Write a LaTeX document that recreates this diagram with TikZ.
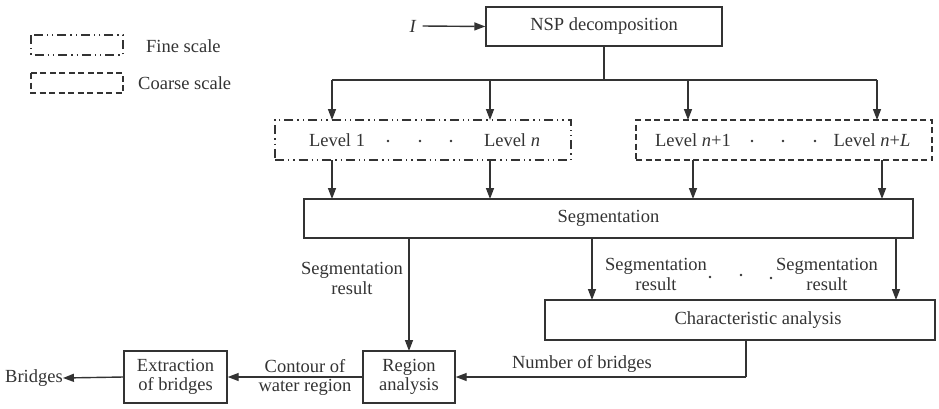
\documentclass[tikz,border=0pt]{standalone}
\usepackage{fontspec}
\setmainfont{Liberation Serif}
\usetikzlibrary{arrows.meta}
\definecolor{ink}{HTML}{333333}
\tikzset{
  every node/.style={font=\fontsize{18.5}{21}\selectfont, text=ink},
  box/.style={draw=ink, line width=1.4pt, inner sep=0pt, align=center},
  fine/.style={draw=ink, line width=1.4pt, dash pattern=on 9pt off 4pt on 1.3pt off 4pt on 1.3pt off 4pt},
  coarse/.style={draw=ink, line width=1.4pt, dash pattern=on 6pt off 3.5pt},
  link/.style={draw=ink, line width=1.4pt},
  arr/.style={link, -{Triangle[length=11pt,width=8pt]}},
  lbl/.style={align=center, inner sep=0pt},
}
\begin{document}
\begin{tikzpicture}[x=1pt, y=-1pt]
\useasboundingbox (0,0) rectangle (939,408);

% legend
\draw[fine] (31,35) rectangle (123,55);
\node[anchor=west, inner sep=0pt] (lgfine) at (146,46) {Fine scale};
\draw[coarse] (31,73) rectangle (123,93);
\node[anchor=west, inner sep=0pt] (lgcoarse) at (138,83) {Coarse scale};

% main boxes
\node[box, minimum width=236pt, minimum height=39pt] (nsp) at (604,26.5) {NSP decomposition};
\node[fine, inner sep=0pt, minimum width=296pt, minimum height=40pt] (finebox) at (423,140) {};
\node[coarse, inner sep=0pt, minimum width=296pt, minimum height=40pt] (coarsebox) at (784,140) {};
\node[box, minimum width=609pt, minimum height=39pt] (seg) at (608.5,218.5) {Segmentation};
\node[box, minimum width=390pt, minimum height=40pt] (char) at (740,320) {\hspace*{36pt}Characteristic analysis};
\node[box, minimum width=92pt, minimum height=52pt] (region) at (409,377) {Region\\[-2pt]analysis};
\node[box, minimum width=103pt, minimum height=52pt] (extract) at (175.5,377) {Extraction\\[-2pt]of bridges};

% level labels
\node[lbl] (l1) at (337,140) {Level 1};
\node[lbl] (ln) at (512,140) {Level \textit{n}};
\node[lbl] (ln1) at (693,140) {Level \textit{n}+1};
\node[lbl] (lnl) at (872,140) {Level \textit{n}+\textit{L}};
\foreach \x in {388,420,451} \fill[ink] (\x,141) circle (1.3pt);
\foreach \x in {752,783,815} \fill[ink] (\x,141) circle (1.3pt);

% input
\node[lbl] (inp) at (413,26) {\textit{I}};
\draw[arr] (inp.east) ++(6pt,0) -- (nsp.west);

% distribution bus
\coordinate (bus) at (604,80);
\draw[link] (nsp.south) -- (bus);
\draw[link] (332,80) -- (877,80);
\draw[arr] (332,80) -- (332,120);
\draw[arr] (490,80) -- (490,120);
\draw[arr] (688,80) -- (688,120);
\draw[arr] (877,80) -- (877,120);

% into segmentation
\draw[arr] (332,160) -- (332,199);
\draw[arr] (490,160) -- (490,199);
\draw[arr] (693,160) -- (693,199);
\draw[arr] (882,160) -- (882,199);

% segmentation results
\draw[arr] (409,238) -- (409,351);
\node[lbl] (sr0) at (352,278) {Segmentation\\[-1pt]result};
\draw[arr] (592,238) -- (592,300);
\draw[arr] (896,238) -- (896,300);
\node[lbl] (sr1) at (656,274) {Segmentation\\[-1pt]result};
\node[lbl] (sr2) at (827,274) {Segmentation\\[-1pt]result};
\foreach \x/\y in {710/277,741/275,771/278} \fill[ink] (\x,\y) circle (1.3pt);

% number of bridges
\coordinate (nb) at (746,377);
\draw[link] (746,340) -- (nb);
\draw[arr] (nb) -- (region.east |- nb);
\node[lbl] (nbl) at (582,364) {Number of bridges};

% contour and output
\draw[arr] (region.west) -- (extract.east);
\node[lbl] (cw) at (305,377) {Contour of\\[-2pt]water region};
\node[lbl, anchor=west] (br) at (5,378) {Bridges};
\draw[arr] (extract.west) -- (br.east);
\end{tikzpicture}
\end{document}
